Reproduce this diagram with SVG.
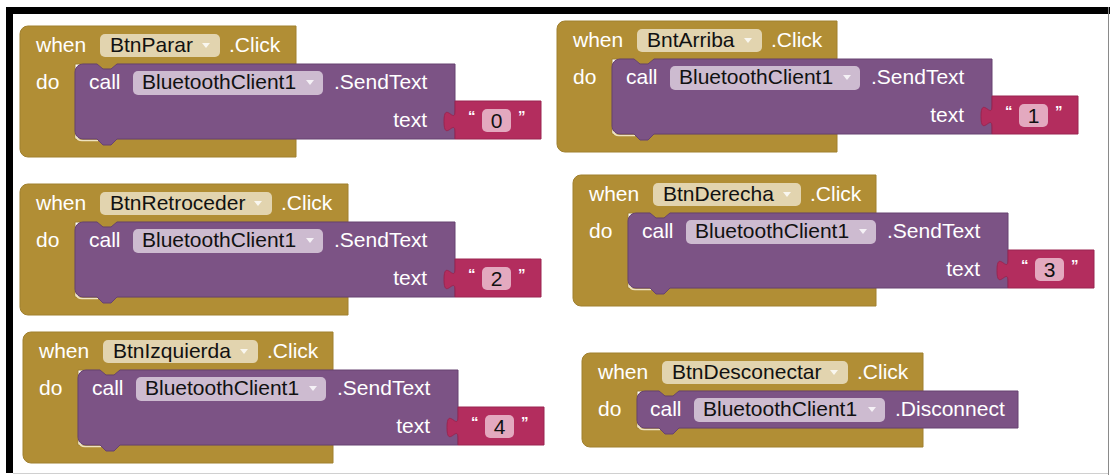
<svg xmlns="http://www.w3.org/2000/svg" width="1110" height="475" viewBox="0 0 1110 475">
<style>
.t{font-family:"Liberation Sans",Arial,sans-serif;font-size:21px}
.w{fill:#fff}
.k{fill:#111}
.q{fill:#fff;font-family:"Liberation Sans",Arial,sans-serif;font-size:15px;font-weight:bold}
.gold{fill:#B18E35;stroke:#a0802f;stroke-width:1}
.purple{fill:#7C5385;stroke:#664270;stroke-width:1}
.pink{fill:#B32D5E;stroke:#9a2550;stroke-width:1}
.fg{fill:#E2D4AF}
.fp{fill:#CDBBD0}
.fk{fill:#E3A9BF}
.arr{fill:#fff;opacity:.8}
.hl{fill:none;stroke:#efe3bf;stroke-width:1.6}
</style>
<defs>
<path id="callSend" d="M0,8 A8,8 0 0 1 8,0 H22 L28,5 H36 L42,0 H380 V75 H42 L36,81 H28 L22,75 H8 A8,8 0 0 1 0,67 Z"/>
<path id="callOne" d="M0,8 A8,8 0 0 1 8,0 H22 L28,5 H36 L42,0 H381 V37 H42 L36,43 H28 L22,37 H8 A8,8 0 0 1 0,29 Z"/>
<path id="txtBlk" d="M0,0 H86 V38 H0 V31 c0,-14 -11,11 -11,-10.5 s11,3.5 11,-10.5 Z"/>
<polygon id="dd" points="-4,-2 4,-2 0,3"/>
</defs>
<rect x="0" y="0" width="1110" height="475" fill="#fff"/>
<g id="frame">
<rect x="6" y="7" width="1104" height="7" fill="#000"/>
<rect x="6" y="7" width="7" height="466" fill="#000"/>
<line x1="1108.5" y1="7" x2="1108.5" y2="475" stroke="#8a8a8a" stroke-width="1"/>
<line x1="13" y1="473.5" x2="1108" y2="473.5" stroke="#d0d0d0" stroke-width="1"/>
</g>
<g id="connectors"/>

<g id="btnParar" transform="translate(20,26)">
<path class="gold" d="M0,8 A8,8 0 0 1 8,0 H276 V38 H97 L91,43 H83 L77,38 H55 V113 H276 V131 H8 A8,8 0 0 1 0,123 Z"/>
<path class="hl" d="M56,110 Q57,114.5 62,114.5 H78"/>
<text class="t w" x="16" y="26">when</text>
<rect class="fg" x="80" y="8" width="120" height="23" rx="5"/>
<text class="t k" x="90" y="26">BtnParar</text>
<use href="#dd" class="arr" x="186" y="19"/>
<text class="t w" x="209" y="26">.Click</text>
<text class="t w" x="16" y="63">do</text>
<g transform="translate(55,38)">
<use href="#callSend" class="purple"/>
<text class="t w" x="14" y="25">call</text>
<rect class="fp" x="58" y="7" width="190" height="24" rx="5"/>
<text class="t k" x="67" y="25">BluetoothClient1</text>
<use href="#dd" class="arr" x="235" y="18"/>
<text class="t w" x="259" y="25">.SendText</text>
<text class="t w" x="352" y="62.5" text-anchor="end">text</text>
<g transform="translate(380,37)">
<use href="#txtBlk" class="pink"/>
<text class="q" x="13" y="20">“</text>
<rect class="fk" x="27" y="8" width="29" height="23" rx="5"/>
<text class="t k" x="41.5" y="26.5" text-anchor="middle">0</text>
<text class="q" x="63" y="20">”</text>
</g>
</g>
</g>

<g id="bntArriba" transform="translate(557,21)">
<path class="gold" d="M0,8 A8,8 0 0 1 8,0 H280 V38 H97 L91,43 H83 L77,38 H55 V113 H280 V131 H8 A8,8 0 0 1 0,123 Z"/>
<path class="hl" d="M56,110 Q57,114.5 62,114.5 H78"/>
<text class="t w" x="16" y="26">when</text>
<rect class="fg" x="80" y="8" width="125" height="23" rx="5"/>
<text class="t k" x="90" y="26">BntArriba</text>
<use href="#dd" class="arr" x="191" y="19"/>
<text class="t w" x="214" y="26">.Click</text>
<text class="t w" x="16" y="63">do</text>
<g transform="translate(55,38)">
<use href="#callSend" class="purple"/>
<text class="t w" x="14" y="25">call</text>
<rect class="fp" x="58" y="7" width="190" height="24" rx="5"/>
<text class="t k" x="67" y="25">BluetoothClient1</text>
<use href="#dd" class="arr" x="235" y="18"/>
<text class="t w" x="259" y="25">.SendText</text>
<text class="t w" x="352" y="62.5" text-anchor="end">text</text>
<g transform="translate(380,37)">
<use href="#txtBlk" class="pink"/>
<text class="q" x="13" y="20">“</text>
<rect class="fk" x="27" y="8" width="29" height="23" rx="5"/>
<text class="t k" x="41.5" y="26.5" text-anchor="middle">1</text>
<text class="q" x="63" y="20">”</text>
</g>
</g>
</g>

<g id="btnRetroceder" transform="translate(20,184)">
<path class="gold" d="M0,8 A8,8 0 0 1 8,0 H328 V38 H97 L91,43 H83 L77,38 H55 V113 H328 V131 H8 A8,8 0 0 1 0,123 Z"/>
<path class="hl" d="M56,110 Q57,114.5 62,114.5 H78"/>
<text class="t w" x="16" y="26">when</text>
<rect class="fg" x="80" y="8" width="172" height="23" rx="5"/>
<text class="t k" x="90" y="26">BtnRetroceder</text>
<use href="#dd" class="arr" x="238" y="19"/>
<text class="t w" x="261" y="26">.Click</text>
<text class="t w" x="16" y="63">do</text>
<g transform="translate(55,38)">
<use href="#callSend" class="purple"/>
<text class="t w" x="14" y="25">call</text>
<rect class="fp" x="58" y="7" width="190" height="24" rx="5"/>
<text class="t k" x="67" y="25">BluetoothClient1</text>
<use href="#dd" class="arr" x="235" y="18"/>
<text class="t w" x="259" y="25">.SendText</text>
<text class="t w" x="352" y="62.5" text-anchor="end">text</text>
<g transform="translate(380,37)">
<use href="#txtBlk" class="pink"/>
<text class="q" x="13" y="20">“</text>
<rect class="fk" x="27" y="8" width="29" height="23" rx="5"/>
<text class="t k" x="41.5" y="26.5" text-anchor="middle">2</text>
<text class="q" x="63" y="20">”</text>
</g>
</g>
</g>

<g id="btnDerecha" transform="translate(573,175)">
<path class="gold" d="M0,8 A8,8 0 0 1 8,0 H303 V38 H97 L91,43 H83 L77,38 H55 V113 H303 V131 H8 A8,8 0 0 1 0,123 Z"/>
<path class="hl" d="M56,110 Q57,114.5 62,114.5 H78"/>
<text class="t w" x="16" y="26">when</text>
<rect class="fg" x="80" y="8" width="148" height="23" rx="5"/>
<text class="t k" x="90" y="26">BtnDerecha</text>
<use href="#dd" class="arr" x="214" y="19"/>
<text class="t w" x="237" y="26">.Click</text>
<text class="t w" x="16" y="63">do</text>
<g transform="translate(55,38)">
<use href="#callSend" class="purple"/>
<text class="t w" x="14" y="25">call</text>
<rect class="fp" x="58" y="7" width="190" height="24" rx="5"/>
<text class="t k" x="67" y="25">BluetoothClient1</text>
<use href="#dd" class="arr" x="235" y="18"/>
<text class="t w" x="259" y="25">.SendText</text>
<text class="t w" x="352" y="62.5" text-anchor="end">text</text>
<g transform="translate(380,37)">
<use href="#txtBlk" class="pink"/>
<text class="q" x="13" y="20">“</text>
<rect class="fk" x="27" y="8" width="29" height="23" rx="5"/>
<text class="t k" x="41.5" y="26.5" text-anchor="middle">3</text>
<text class="q" x="63" y="20">”</text>
</g>
</g>
</g>

<g id="btnIzquierda" transform="translate(23,332)">
<path class="gold" d="M0,8 A8,8 0 0 1 8,0 H310 V38 H97 L91,43 H83 L77,38 H55 V113 H310 V131 H8 A8,8 0 0 1 0,123 Z"/>
<path class="hl" d="M56,110 Q57,114.5 62,114.5 H78"/>
<text class="t w" x="16" y="26">when</text>
<rect class="fg" x="80" y="8" width="155" height="23" rx="5"/>
<text class="t k" x="90" y="26">BtnIzquierda</text>
<use href="#dd" class="arr" x="221" y="19"/>
<text class="t w" x="244" y="26">.Click</text>
<text class="t w" x="16" y="63">do</text>
<g transform="translate(55,38)">
<use href="#callSend" class="purple"/>
<text class="t w" x="14" y="25">call</text>
<rect class="fp" x="58" y="7" width="190" height="24" rx="5"/>
<text class="t k" x="67" y="25">BluetoothClient1</text>
<use href="#dd" class="arr" x="235" y="18"/>
<text class="t w" x="259" y="25">.SendText</text>
<text class="t w" x="352" y="62.5" text-anchor="end">text</text>
<g transform="translate(380,37)">
<use href="#txtBlk" class="pink"/>
<text class="q" x="13" y="20">“</text>
<rect class="fk" x="27" y="8" width="29" height="23" rx="5"/>
<text class="t k" x="41.5" y="26.5" text-anchor="middle">4</text>
<text class="q" x="63" y="20">”</text>
</g>
</g>
</g>

<g id="btnDesconectar" transform="translate(582,353)">
<path class="gold" d="M0,8 A8,8 0 0 1 8,0 H341 V38 H97 L91,43 H83 L77,38 H55 V75 H341 V94 H8 A8,8 0 0 1 0,86 Z"/>
<path class="hl" d="M56,72 Q57,76.5 62,76.5 H78"/>
<text class="t w" x="16" y="26">when</text>
<rect class="fg" x="80" y="8" width="186" height="23" rx="5"/>
<text class="t k" x="90" y="26">BtnDesconectar</text>
<use href="#dd" class="arr" x="252" y="19"/>
<text class="t w" x="275" y="26">.Click</text>
<text class="t w" x="16" y="63">do</text>
<g transform="translate(55,38)">
<use href="#callOne" class="purple"/>
<text class="t w" x="13" y="25">call</text>
<rect class="fp" x="57" y="7" width="191" height="24" rx="5"/>
<text class="t k" x="66" y="25">BluetoothClient1</text>
<use href="#dd" class="arr" x="235" y="18"/>
<text class="t w" x="258" y="25">.Disconnect</text>
</g>
</g>
</svg>
